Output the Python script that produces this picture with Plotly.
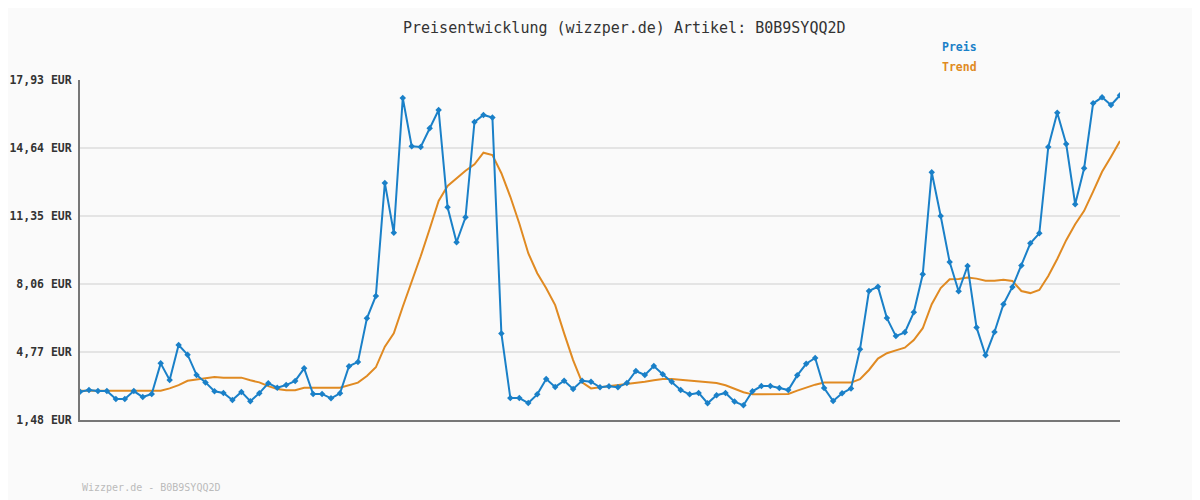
import plotly.graph_objects as go

price = [2.85, 2.93, 2.88, 2.88, 2.50, 2.50, 2.88, 2.59, 2.74, 4.22,
         3.42, 5.11, 4.64, 3.66, 3.30, 2.87, 2.79, 2.45, 2.84, 2.39,
         2.78, 3.26, 3.04, 3.17, 3.37, 3.98, 2.74, 2.74, 2.53, 2.77,
         4.08, 4.29, 6.40, 7.48, 12.95, 10.54, 17.06, 14.72, 14.69, 15.59,
         16.48, 11.77, 10.08, 11.29, 15.90, 16.24, 16.11, 5.67, 2.54, 2.54,
         2.30, 2.72, 3.46, 3.08, 3.38, 2.98, 3.38, 3.33, 3.06, 3.11,
         3.06, 3.27, 3.85, 3.66, 4.09, 3.69, 3.33, 2.93, 2.72, 2.79,
         2.29, 2.68, 2.79, 2.37, 2.19, 2.87, 3.12, 3.12, 3.03, 2.93,
         3.64, 4.20, 4.48, 3.03, 2.40, 2.77, 3.01, 4.90, 7.72, 7.93,
         6.41, 5.54, 5.72, 6.69, 8.53, 13.47, 11.35, 9.12, 7.71, 8.93,
         5.96, 4.61, 5.74, 7.08, 7.92, 8.95, 10.03, 10.51, 14.69, 16.35,
         14.83, 11.92, 13.66, 16.80, 17.09, 16.72, 17.19]

trend = [2.90, 2.90, 2.90, 2.90, 2.90, 2.90, 2.90, 2.90, 2.90, 2.90,
         3.01, 3.17, 3.38, 3.45, 3.50, 3.56, 3.53, 3.53, 3.53, 3.40,
         3.30, 3.12, 2.98, 2.92, 2.92, 3.04, 3.03, 3.04, 3.04, 3.04,
         3.17, 3.29, 3.61, 4.03, 5.03, 5.67, 6.96, 8.17, 9.40, 10.72,
         12.08, 12.80, 13.17, 13.54, 13.85, 14.41, 14.30, 13.42, 12.28, 10.99,
         9.55, 8.58, 7.85, 7.04, 5.67, 4.38, 3.30, 3.01, 3.06, 3.11,
         3.16, 3.24, 3.26, 3.33, 3.40, 3.46, 3.46, 3.42, 3.38, 3.37,
         3.32, 3.27, 3.16, 2.99, 2.82, 2.72, 2.72, 2.72, 2.74, 2.74,
         2.90, 3.04, 3.19, 3.29, 3.29, 3.29, 3.29, 3.46, 3.90, 4.45,
         4.71, 4.85, 4.98, 5.35, 5.92, 7.08, 7.86, 8.29, 8.30, 8.37,
         8.32, 8.22, 8.22, 8.27, 8.21, 7.72, 7.62, 7.77, 8.45, 9.27,
         10.18, 10.95, 11.60, 12.53, 13.49, 14.22, 14.98]

tick_vals = [1.48, 4.77, 8.06, 11.35, 14.64, 17.93]
tick_text = ["1,48 EUR", "4,77 EUR", "8,06 EUR", "11,35 EUR", "14,64 EUR", "17,93 EUR"]

x = list(range(len(price)))

BLUE = "#1a80c8"
ORANGE = "#e08a22"
BG = "#fafafa"
MONO = "DejaVu Sans Mono, Liberation Mono, monospace"

fig = go.Figure()
fig.add_trace(go.Scatter(x=x, y=trend, mode="lines", name="Trend",
                         line=dict(color=ORANGE, width=2), hoverinfo="skip"))
fig.add_trace(go.Scatter(x=x, y=price, mode="lines+markers", name="Preis",
                         line=dict(color=BLUE, width=2),
                         marker=dict(symbol="diamond", size=5, color=BLUE)))

fig.update_layout(
    width=1192, height=492,
    margin=dict(l=72, r=80, t=72, b=80, autoexpand=False),
    paper_bgcolor=BG, plot_bgcolor=BG,
    showlegend=False,
    font=dict(family=MONO, color="#333333"),
    xaxis=dict(range=[0, len(price) - 1], showticklabels=False, ticks="",
               showgrid=False, zeroline=False, showline=True, automargin=False,
               linecolor="#777777", linewidth=2),
    yaxis=dict(range=[1.48, 17.93], tickvals=tick_vals, ticktext=tick_text,
               ticks="", showgrid=True, gridcolor="#e4e4e4", gridwidth=2,
               zeroline=False, showline=True, linecolor="#777777", linewidth=2,
               ticklabelstandoff=4, automargin=False,
               tickfont=dict(family=MONO, size=11.5, color="#333333", weight="bold")),
    annotations=[
        dict(text="Preisentwicklung (wizzper.de) Artikel: B0B9SYQQ2D",
             xref="paper", yref="paper", x=(624 - 80) / 1040, y=(420 - 28) / 340,
             xanchor="center", yanchor="middle", showarrow=False,
             font=dict(family=MONO, size=15, color="#333333")),
        dict(text="<b>Preis</b>", xref="paper", yref="paper",
             x=(940 - 80) / 1040, y=(420 - 47) / 340, xanchor="left", yanchor="middle",
             showarrow=False, font=dict(family=MONO, size=11.5, color=BLUE)),
        dict(text="<b>Trend</b>", xref="paper", yref="paper",
             x=(940 - 80) / 1040, y=(420 - 67) / 340, xanchor="left", yanchor="middle",
             showarrow=False, font=dict(family=MONO, size=11.5, color=ORANGE)),
        dict(text="Wizzper.de - B0B9SYQQ2D", xref="paper", yref="paper",
             x=0, y=(420 - 487) / 340, xanchor="left", yanchor="middle",
             showarrow=False, font=dict(family=MONO, size=10, color="#bbbbbb")),
    ],
)

fig.write_html("out.html")
